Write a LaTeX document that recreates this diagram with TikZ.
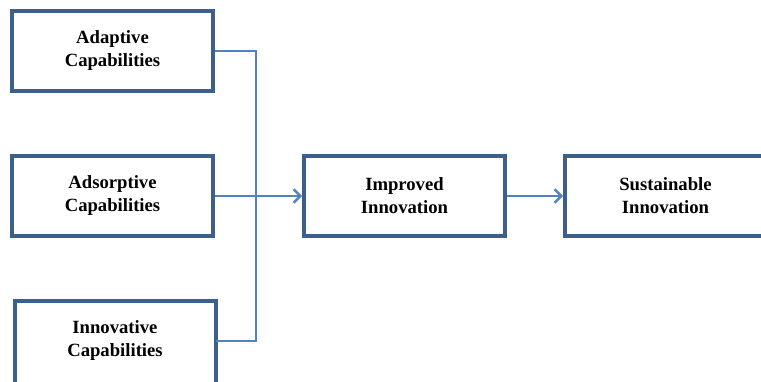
\documentclass[tikz,border=0pt]{standalone}
\usepackage{fontspec}
\setmainfont{Liberation Serif}
\usepackage{tikz}
\usetikzlibrary{arrows.meta}
\definecolor{boxblue}{HTML}{3C5F8C}
\definecolor{lineblue}{HTML}{5283C0}
\begin{document}
\begin{tikzpicture}[x=0.75pt,y=-0.75pt,
  box/.style={draw=boxblue,line width=3pt,minimum width=150.75pt,minimum height=59.5pt,
    inner sep=0pt,align=center,font=\fontsize{14}{17.25}\selectfont\bfseries},
  link/.style={draw=lineblue,line width=1.8pt},
  >={Straight Barb[length=5pt,width=10pt,line width=1.8pt]}]
\useasboundingbox (0,0) rectangle (761,382);
\clip (0,0) rectangle (761,382);
\node[box] (adapt) at (112.5,51) {Adaptive\\Capabilities};
\node[box] (adsorb) at (112.5,196) {Adsorptive\\Capabilities};
\node[box,draw=none,outer sep=0pt] (innov) at (115,341) {Innovative\\Capabilities};
% box runs off the bottom edge
\draw[boxblue,line width=3pt] ([yshift=-20pt]innov.south west) |- (innov.north east)
  -- ([yshift=-20pt]innov.south east);
\node[box] (improved) at (404.5,196) {Improved\\Innovation};
\node[box] (sustain) at (665.5,196) {Sustainable\\Innovation};
\coordinate (jtop) at (256,51);
\coordinate (jbot) at (256,341);
\draw[link] (adapt.east) -- (jtop) -- (jbot) -- (jbot -| innov.east);
\draw[link,->] (adsorb.east) -- (improved.west);
\draw[link,->] (improved.east) -- (sustain.west);
\end{tikzpicture}
\end{document}
